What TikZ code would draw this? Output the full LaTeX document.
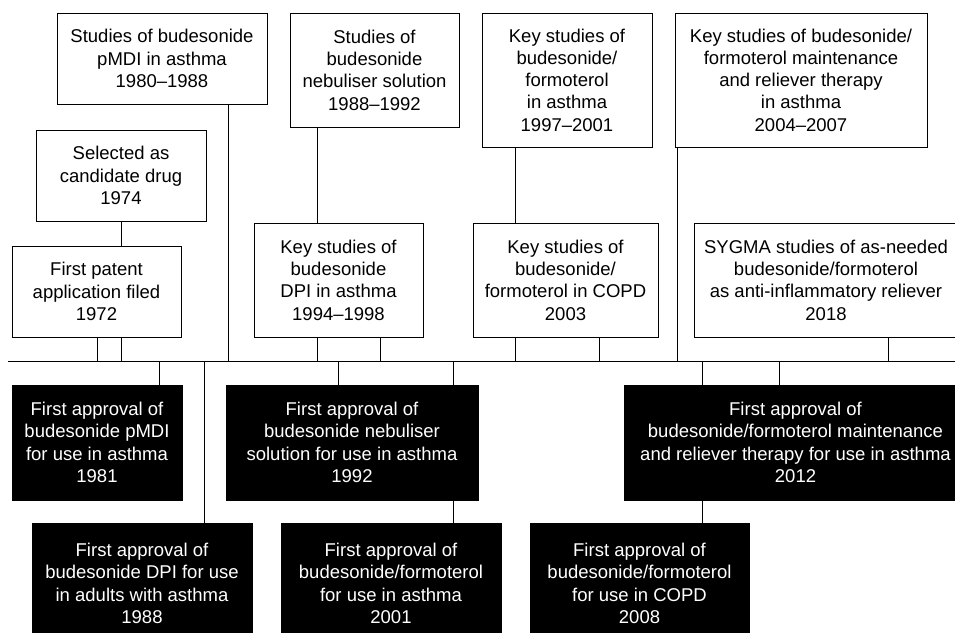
\documentclass[tikz,border=0pt]{standalone}
\usepackage{fontspec}
\setmainfont{Liberation Sans}
\begin{document}
\begin{tikzpicture}[x=1pt,y=-1pt,line width=1pt,
  wbox/.style={draw=black,fill=white,text=black,align=center,inner sep=0pt,
    font=\fontsize{18.5}{22.3}\selectfont},
  bbox/.style={draw=black,fill=black,text=white,align=center,inner sep=0pt,
    font=\fontsize{18.5}{22.3}\selectfont},
  conn/.style={draw=black,line width=1pt}]
\clip (0,0) rectangle (955,632);
\fill[white] (0,0) rectangle (955,632);
% white boxes (above the timeline)
\node[wbox,minimum width=169,minimum height=91] (A) at (96.5,291.5) {First patent\\application filed\\1972};
\node[wbox,minimum width=170,minimum height=91] (B) at (121,175.5) {Selected as\\candidate drug\\1974};
\node[wbox,minimum width=210,minimum height=91] (C) at (162,58.5) {Studies of budesonide\\pMDI in asthma\\1980–1988};
\node[wbox,minimum width=169,minimum height=114] (D) at (374.5,70) {Studies of\\budesonide\\nebuliser solution\\1988–1992};
\node[wbox,minimum width=169,minimum height=114] (E) at (338.5,280) {Key studies of\\budesonide\\DPI in asthma\\1994–1998};
\node[wbox,minimum width=170,minimum height=134] (F) at (567,80) {Key studies of\\budesonide/\\formoterol\\in asthma\\1997–2001};
\node[wbox,minimum width=185,minimum height=114] (G) at (565.5,280) {Key studies of\\budesonide/\\formoterol in COPD\\2003};
\node[wbox,minimum width=252,minimum height=134] (H) at (801,80) {Key studies of budesonide/\\formoterol maintenance\\and reliever therapy\\in asthma\\2004–2007};
\node[wbox,minimum width=264,minimum height=114] (I) at (826,280) {SYGMA studies of as-needed\\budesonide/formoterol\\as anti-inflammatory reliever\\2018};
% black boxes (below the timeline)
\node[bbox,minimum width=170,minimum height=115] (J) at (97,442.5) {First approval of\\budesonide pMDI\\for use in asthma\\1981};
\node[bbox,minimum width=252,minimum height=115] (K) at (352,442.5) {First approval of\\budesonide nebuliser\\solution for use in asthma\\1992};
\node[bbox,minimum width=343,minimum height=115] (L) at (795.5,442.5) {First approval of\\budesonide/formoterol maintenance\\and reliever therapy for use in asthma\\2012};
\node[bbox,minimum width=220,minimum height=121] (M) at (142,583.5) {First approval of\\budesonide DPI for use\\in adults with asthma\\1988};
\node[bbox,minimum width=220,minimum height=121] (N) at (391,583.5) {First approval of\\budesonide/formoterol\\for use in asthma\\2001};
\node[bbox,minimum width=219,minimum height=121] (O) at (639.5,583.5) {First approval of\\budesonide/formoterol\\for use in COPD\\2008};
% timeline
\coordinate (tl) at (8,361);
\coordinate (tr) at (955,361);
\draw[conn] (tl) -- (tr);
% timeline points
\coordinate (u1) at (97,361);
\coordinate (u2) at (121,361);
\coordinate (u3) at (228,361);
\coordinate (u4) at (317,361);
\coordinate (u5) at (380,361);
\coordinate (u6) at (515,361);
\coordinate (u7) at (599,361);
\coordinate (u8) at (677,361);
\coordinate (u9) at (888,361);
\coordinate (d1) at (159,361);
\coordinate (d2) at (204,361);
\coordinate (d3) at (338,361);
\coordinate (d4) at (453,361);
\coordinate (d5) at (702,361);
\coordinate (d6) at (779,361);
% connectors above
\draw[conn] (B.south) -- (A.north -| B.south);
\draw[conn] (A.south -| u1) -- (u1);
\draw[conn] (A.south -| u2) -- (u2);
\draw[conn] (C.south -| u3) -- (u3);
\draw[conn] (D.south -| u4) -- (E.north -| u4);
\draw[conn] (E.south -| u4) -- (u4);
\draw[conn] (E.south -| u5) -- (u5);
\draw[conn] (F.south -| u6) -- (G.north -| u6);
\draw[conn] (G.south -| u6) -- (u6);
\draw[conn] (G.south -| u7) -- (u7);
\draw[conn] (H.south -| u8) -- (u8);
\draw[conn] (I.south -| u9) -- (u9);
% connectors below
\draw[conn] (d1) -- (J.north -| d1);
\draw[conn] (d2) -- (M.north -| d2);
\draw[conn] (d3) -- (K.north -| d3);
\draw[conn] (d4) -- (K.north -| d4);
\draw[conn] (K.south -| d4) -- (N.north -| d4);
\draw[conn] (d5) -- (L.north -| d5);
\draw[conn] (d6) -- (L.north -| d6);
\draw[conn] (L.south -| d5) -- (O.north -| d5);
\end{tikzpicture}
\end{document}
